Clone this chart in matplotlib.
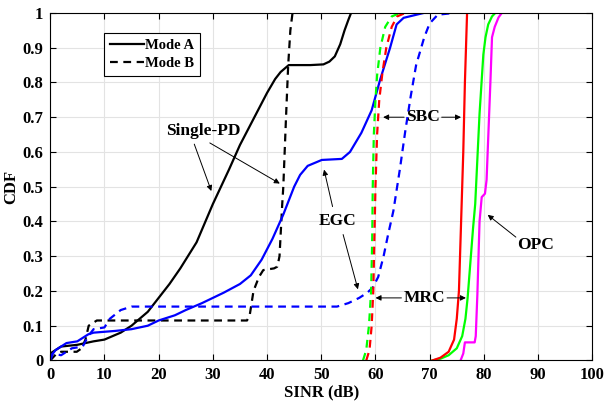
import numpy as np
import matplotlib
matplotlib.use('Agg')
import matplotlib.pyplot as plt
from matplotlib.lines import Line2D

plt.rcParams['font.family'] = ['Liberation Serif', 'DejaVu Serif']
plt.rcParams['font.weight'] = 'bold'

# Single-PD (black)
spd_a_x = [0, 1, 2, 5, 8, 10, 13, 15, 18, 20, 22, 24, 25, 27, 30, 33, 35, 38, 40, 41.5, 42.5, 44, 48, 50.4, 51.5, 52.5, 53.5, 54.3, 55, 55.5]
spd_a_y = [0.02, 0.03, 0.04, 0.045, 0.055, 0.06, 0.08, 0.1, 0.14, 0.18, 0.22, 0.265, 0.29, 0.34, 0.45, 0.55, 0.62, 0.71, 0.77, 0.81, 0.83, 0.85, 0.85, 0.852, 0.86, 0.875, 0.91, 0.95, 0.98, 1.0]
spd_b_x = [0, 1.2, 2, 4.9, 5.8, 6.5, 7.1, 8.6, 20, 36.3, 36.8, 37.5, 38.5, 39.3, 41.3, 41.9, 42.3, 42.8, 43.0, 43.5, 43.9, 44.3, 44.7]
spd_b_y = [0.0, 0.02, 0.025, 0.025, 0.035, 0.06, 0.1, 0.115, 0.115, 0.115, 0.13, 0.2, 0.24, 0.26, 0.265, 0.27, 0.3, 0.45, 0.5, 0.7, 0.85, 0.95, 1.0]

# EGC (blue)
egc_a_x = [0, 1, 3, 5, 7, 8, 12, 15, 18, 20, 23, 25, 28, 30, 32, 35, 37, 39, 41, 43, 45, 46.1, 47.5, 50.1, 53.8, 55.3, 57.4, 59.3, 60.9, 62.7, 63.9, 65.2, 68.9]
egc_a_y = [0.01, 0.03, 0.05, 0.055, 0.075, 0.08, 0.085, 0.09, 0.1, 0.115, 0.13, 0.145, 0.165, 0.18, 0.195, 0.22, 0.245, 0.29, 0.35, 0.42, 0.5, 0.534, 0.56, 0.577, 0.58, 0.6, 0.655, 0.72, 0.81, 0.9, 0.967, 0.986, 1.0]
egc_b_x = [0, 0.5, 2, 4, 6, 7, 8, 10, 11, 13, 15, 30, 52.9, 55, 57, 58.5, 59.5, 60.5, 61.5, 62.3, 63.3, 64.5, 65.5, 66.5, 67.5, 69, 70, 71.5, 74.5]
egc_b_y = [0.0, 0.02, 0.015, 0.035, 0.04, 0.07, 0.09, 0.095, 0.12, 0.145, 0.155, 0.155, 0.155, 0.165, 0.18, 0.195, 0.21, 0.24, 0.3, 0.36, 0.43, 0.55, 0.66, 0.76, 0.85, 0.93, 0.97, 0.995, 1.0]

# MRC (green)
mrc_a_x = [70.5, 72, 73.5, 75, 76, 76.6, 77, 77.5, 78, 78.4, 78.8, 79.2, 79.9, 80.3, 80.8, 81.5, 82.1]
mrc_a_y = [0.0, 0.005, 0.015, 0.035, 0.07, 0.12, 0.18, 0.28, 0.38, 0.45, 0.58, 0.71, 0.88, 0.93, 0.967, 0.99, 1.0]
mrc_b_x = [57.7, 58.3, 58.8, 59.2, 59.4, 59.5, 59.7, 60.0, 60.3, 60.9, 61.8, 63.0, 64.6]
mrc_b_y = [0.0, 0.03, 0.1, 0.2, 0.35, 0.5, 0.65, 0.75, 0.82, 0.9, 0.96, 0.99, 1.0]

# SBC (red)
sbc_a_x = [70.5, 72, 73.5, 74.5, 75.0, 75.4, 75.8, 76.2, 76.5, 76.9]
sbc_a_y = [0.0, 0.008, 0.025, 0.06, 0.12, 0.2, 0.4, 0.6, 0.8, 1.0]
sbc_b_x = [58.3, 58.9, 59.3, 59.6, 59.8, 60.0, 60.3, 60.7, 61.3, 62.0, 63.0, 64.0, 65.5]
sbc_b_y = [0.0, 0.03, 0.1, 0.2, 0.35, 0.5, 0.65, 0.75, 0.83, 0.9, 0.96, 0.99, 1.0]

# OPC (magenta)
opc_a_x = [75.7, 76.2, 76.5, 78.3, 78.5, 78.8, 79.2, 79.6, 80.2, 80.5, 80.8, 81.2, 81.5, 82.0, 82.7, 83.3]
opc_a_y = [0.0, 0.02, 0.052, 0.052, 0.07, 0.19, 0.40, 0.47, 0.48, 0.52, 0.64, 0.80, 0.93, 0.96, 0.987, 1.0]

fig = plt.figure(figsize=(6.05, 4.05), dpi=100)
ax = fig.add_axes([0.083, 0.11, 0.896, 0.858])

lw = 1.6
dash = (0, (3.5, 2.5))
ax.plot(spd_a_x, spd_a_y, color='black', lw=lw)
ax.plot(spd_b_x, spd_b_y, color='black', lw=lw, linestyle=dash)
ax.plot(egc_a_x, egc_a_y, color='blue', lw=lw)
ax.plot(egc_b_x, egc_b_y, color='blue', lw=lw, linestyle=dash)
ax.plot(mrc_a_x, mrc_a_y, color='#00ff00', lw=lw)
ax.plot(mrc_b_x, mrc_b_y, color='#00ff00', lw=lw, linestyle=dash)
ax.plot(sbc_a_x, sbc_a_y, color='red', lw=lw)
ax.plot(sbc_b_x, sbc_b_y, color='red', lw=lw, linestyle=dash)
ax.plot(opc_a_x, opc_a_y, color='magenta', lw=lw)

ax.set_xlim(0, 100)
ax.set_ylim(0, 1)
ax.set_xticks(np.arange(0, 101, 10))
ax.set_yticks(np.arange(0, 1.01, 0.1))
ax.set_yticklabels(['0', '0.1', '0.2', '0.3', '0.4', '0.5', '0.6', '0.7', '0.8', '0.9', '1'])
ax.grid(True, color='#e3e3e3', lw=0.8)
ax.set_axisbelow(True)
ax.tick_params(direction='in', top=True, right=True, labelsize=12, length=4, pad=5)
for lab in ax.get_xticklabels() + ax.get_yticklabels():
    lab.set_fontweight('bold')
ax.set_xlabel('SINR (dB)', fontsize=12, fontweight='bold')
ax.set_ylabel('CDF', fontsize=12, fontweight='bold')
ax.xaxis.set_label_coords(0.5, -0.068)
ax.yaxis.set_label_coords(-0.058, 0.5)

handles = [Line2D([], [], color='black', lw=lw),
           Line2D([], [], color='black', lw=lw, linestyle=dash)]
leg = ax.legend(handles, ['Mode A', 'Mode B'], loc='upper left', bbox_to_anchor=(0.0996, 0.942),
                borderaxespad=0, fancybox=False, edgecolor='black', framealpha=1,
                prop={'weight': 'bold', 'size': 10.5},
                handlelength=2.3, handletextpad=0.1, borderpad=0.4, labelspacing=0.3)
leg.get_frame().set_linewidth(0.8)

ap = dict(arrowstyle='-|>', color='black', lw=0.7, mutation_scale=8)
tk = dict(fontsize=12.5, fontweight='bold', ha='center', va='center')
ax.text(28.2, 0.66, 'Single-PD', **tk)
ax.annotate('', xy=(29.9, 0.48), xytext=(26.4, 0.63), arrowprops=ap)
ax.annotate('', xy=(42.8, 0.505), xytext=(29.0, 0.63), arrowprops=ap)
ax.text(53.0, 0.40, 'EGC', **tk)
ax.annotate('', xy=(50.4, 0.557), xytext=(52.2, 0.435), arrowprops=ap)
ax.annotate('', xy=(56.9, 0.197), xytext=(53.9, 0.37), arrowprops=ap)
ax.text(68.8, 0.70, 'SBC', **tk)
ax.annotate('', xy=(60.9, 0.70), xytext=(65.8, 0.70), arrowprops=ap)
ax.annotate('', xy=(76.3, 0.70), xytext=(71.7, 0.70), arrowprops=ap)
ax.text(69.0, 0.18, 'MRC', **tk)
ax.annotate('', xy=(59.5, 0.18), xytext=(65.3, 0.18), arrowprops=ap)
ax.annotate('', xy=(77.2, 0.18), xytext=(72.7, 0.18), arrowprops=ap)
ax.text(89.5, 0.333, 'OPC', **tk)
ax.annotate('', xy=(80.3, 0.424), xytext=(86.3, 0.35), arrowprops=ap)

fig.savefig('out.png', dpi=100)
